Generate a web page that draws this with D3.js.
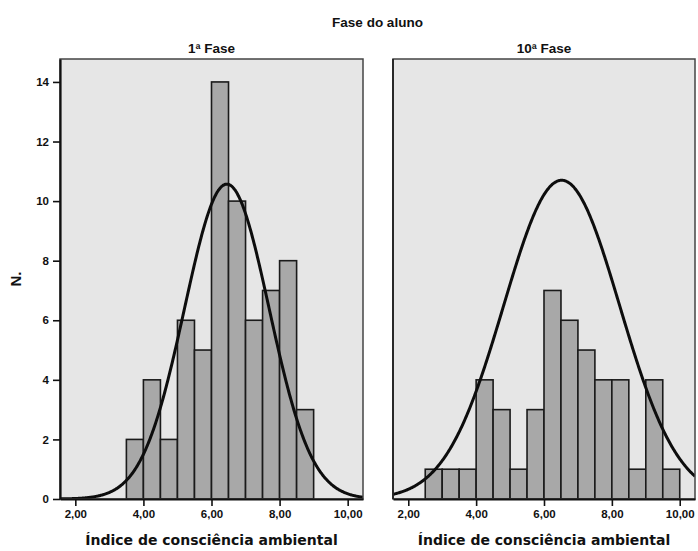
<!DOCTYPE html>
<html>
<head>
<meta charset="utf-8">
<script src="https://cdn.jsdelivr.net/npm/d3@7"></script>
<style>
  html, body { margin: 0; padding: 0; background: #ffffff; }
  svg { display: block; }
  text { font-family: "Liberation Sans", Arial, sans-serif; font-weight: bold; fill: #111; }
</style>
</head>
<body>
<svg id="chart" width="698" height="551"></svg>
<script>
// Histogram bins: lower edge of each bin (width 0.5) and its count, per phase
const panelNames = ["1ª Fase", "10ª Fase"];
const binWidth = 0.5;
const binStarts1 = [3.5, 4.0, 4.5, 5.0, 5.5, 6.0, 6.5, 7.0, 7.5, 8.0, 8.5];
const counts1    = [2, 4, 2, 6, 5, 14, 10, 6, 7, 8, 3];
const binStarts2 = [2.5, 3.0, 3.5, 4.0, 4.5, 5.0, 5.5, 6.0, 6.5, 7.0, 7.5, 8.0, 8.5, 9.0, 9.5];
const counts2    = [1, 1, 1, 4, 3, 1, 3, 7, 6, 5, 4, 4, 1, 4, 1];

// Fitted normal curves: mean, standard deviation and peak height per phase
const curveMeans = [6.45, 6.52];
const curveSds   = [1.24, 1.71];
const curvePeaks = [10.57, 10.7];

// Axis ticks
const xTicks = [2, 4, 6, 8, 10];
const yTicks = [0, 2, 4, 6, 8, 10, 12, 14];

const panels = [
  { name: panelNames[0], starts: binStarts1, counts: counts1, mean: curveMeans[0], sd: curveSds[0], peak: curvePeaks[0] },
  { name: panelNames[1], starts: binStarts2, counts: counts2, mean: curveMeans[1], sd: curveSds[1], peak: curvePeaks[1] }
];

const svg = d3.select("#chart");
const plotTop = 59, plotBottom = 499;
const panelX = [[60, 363], [393, 695]];

const y = d3.scaleLinear().domain([0, 14.77]).range([plotBottom, plotTop]);
const locale = d3.formatLocale({ decimal: ",", thousands: ".", grouping: [3], currency: ["", ""] });
const fmt = locale.format(".2f");

// Overall title
svg.append("text")
  .attr("x", (panelX[0][0] + panelX[1][1]) / 2)
  .attr("y", 27)
  .attr("text-anchor", "middle")
  .style("font-size", "13.5px")
  .text("Fase do aluno");

// Y axis title
svg.append("text")
  .attr("transform", `translate(21,${(plotTop + plotBottom) / 2}) rotate(-90)`)
  .attr("text-anchor", "middle")
  .style("font-size", "15px")
  .text("N.");

panels.forEach((p, i) => {
  const [x0, x1] = panelX[i];
  const x = d3.scaleLinear().domain([1.55, 10.45]).range([x0, x1]);
  const g = svg.append("g");

  g.append("defs").append("clipPath").attr("id", "clip" + i)
    .append("rect").attr("x", x0).attr("y", plotTop).attr("width", x1 - x0).attr("height", plotBottom - plotTop);

  // plot background
  g.append("rect")
    .attr("x", x0).attr("y", plotTop).attr("width", x1 - x0).attr("height", plotBottom - plotTop)
    .attr("fill", "#e6e6e6");

  // bars
  g.selectAll("rect.bar")
    .data(p.starts.map((s, k) => ({ s, c: p.counts[k] })))
    .join("rect")
    .attr("class", "bar")
    .attr("x", d => x(d.s))
    .attr("y", d => y(d.c))
    .attr("width", d => x(d.s + binWidth) - x(d.s))
    .attr("height", d => y(0) - y(d.c))
    .attr("fill", "#a8a8a8")
    .attr("stroke", "#1a1a1a")
    .attr("stroke-width", 1.6);

  // normal curve
  const xs = d3.range(1.55, 10.451, 0.02);
  const line = d3.line()
    .x(d => x(d))
    .y(d => y(p.peak * Math.exp(-0.5 * Math.pow((d - p.mean) / p.sd, 2))))
    .curve(d3.curveBasis);
  g.append("path")
    .datum(xs)
    .attr("d", line)
    .attr("fill", "none")
    .attr("stroke", "#0d0d0d")
    .attr("stroke-width", 3)
    .attr("clip-path", `url(#clip${i})`);

  // panel frame
  g.append("rect")
    .attr("x", x0).attr("y", plotTop).attr("width", x1 - x0).attr("height", plotBottom - plotTop)
    .attr("fill", "none")
    .attr("stroke", "#444")
    .attr("stroke-width", 1.5);

  // x axis
  const xAxis = d3.axisBottom(x).tickValues(xTicks).tickFormat(fmt).tickSize(7).tickSizeOuter(0);
  const gx = g.append("g").attr("transform", `translate(0,${plotBottom})`).call(xAxis);
  gx.select(".domain").attr("stroke", "#111").attr("stroke-width", 2.2);
  gx.selectAll(".tick line").attr("stroke", "#111").attr("stroke-width", 1.6);
  gx.selectAll(".tick text")
    .attr("dy", "0.71em").attr("y", 11)
    .style("font-size", "11.5px").style("font-family", "'Liberation Sans', Arial, sans-serif").attr("fill", "#222");

  // x axis title
  g.append("text")
    .attr("x", (x0 + x1) / 2)
    .attr("y", 545)
    .attr("text-anchor", "middle")
    .style("font-family", "'DejaVu Sans', Verdana, sans-serif")
    .style("font-size", "14px")
    .text("Índice de consciência ambiental");

  // panel heading
  g.append("text")
    .attr("x", (x0 + x1) / 2)
    .attr("y", 53)
    .attr("text-anchor", "middle")
    .style("font-size", "13.5px")
    .text(p.name);

  // y axis on the first panel only
  if (i === 0) {
    const yAxis = d3.axisLeft(y).tickValues(yTicks).tickSize(7).tickSizeOuter(0);
    const gy = g.append("g").attr("transform", `translate(${x0},0)`).call(yAxis);
    gy.select(".domain").attr("stroke", "#111").attr("stroke-width", 2.2);
    gy.selectAll(".tick line").attr("stroke", "#111").attr("stroke-width", 1.6);
    gy.selectAll(".tick text")
      .attr("x", -11)
      .style("font-size", "11.5px").style("font-family", "'Liberation Sans', Arial, sans-serif").attr("fill", "#222");
  } else {
    g.append("line")
      .attr("x1", x0).attr("x2", x0).attr("y1", plotTop).attr("y2", plotBottom)
      .attr("stroke", "#222").attr("stroke-width", 1.8);
  }
});
</script>
</body>
</html>
